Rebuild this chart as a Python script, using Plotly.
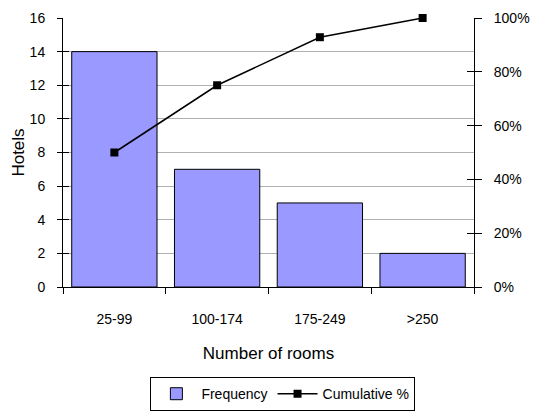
import plotly.graph_objects as go

categories = ["25-99", "100-174", "175-249", ">250"]
frequency = [14, 7, 5, 2]
cumulative_pct = [0.50, 0.75, 0.9286, 1.00]
left_ticks = [0, 2, 4, 6, 8, 10, 12, 14, 16]
right_ticks = [0, 0.2, 0.4, 0.6, 0.8, 1.0]
right_labels = ["0%", "20%", "40%", "60%", "80%", "100%"]

FONT = "Liberation Sans Narrow, Arial Narrow, Liberation Sans, Arial"

fig = go.Figure()
fig.add_trace(go.Bar(
    x=categories, y=frequency, name="Frequency",
    marker=dict(color="#9999FF", line=dict(color="black", width=1)),
    yaxis="y",
))
fig.add_trace(go.Scatter(
    x=categories, y=cumulative_pct, name="Cumulative %",
    mode="lines+markers",
    line=dict(color="black", width=1.5),
    marker=dict(symbol="square", size=8, color="black"),
    yaxis="y2", cliponaxis=False,
))
# invisible helper traces to activate inner tick axes
fig.add_trace(go.Scatter(x=categories, y=frequency, yaxis="y3", mode="none",
                         showlegend=False, hoverinfo="skip"))
fig.add_trace(go.Scatter(x=categories, y=cumulative_pct, yaxis="y4", mode="none",
                         showlegend=False, hoverinfo="skip"))

fig.update_layout(
    width=533, height=414,
    margin=dict(l=63, r=59, t=18, b=127, autoexpand=False),
    paper_bgcolor="white", plot_bgcolor="white",
    font=dict(family=FONT, size=14, color="black"),
    bargap=0.17,
    showlegend=True,
    legend=dict(
        orientation="h", x=0.535, y=-0.335, xanchor="center", yanchor="top",
        bordercolor="black", borderwidth=1, font=dict(size=14),
        traceorder="normal", itemwidth=40,
    ),
    xaxis=dict(
        title=dict(text="Number of rooms", standoff=21),
        showline=True, linecolor="black", linewidth=1,
        ticks="outside", ticklen=6, tickcolor="black", tickson="boundaries",
        ticklabelstandoff=19,
        showgrid=False, automargin=False,
    ),
    yaxis=dict(
        title=dict(text="Hotels", standoff=0),
        range=[0, 16], tickvals=left_ticks,
        showline=True, linecolor="black", linewidth=1,
        ticks="outside", ticklen=5, tickcolor="black",
        ticklabelstandoff=9,
        showgrid=True, gridcolor="#b0b0b0", gridwidth=1,
        zeroline=False, automargin=False,
    ),
    yaxis2=dict(
        overlaying="y", side="right",
        range=[0, 1.0], tickvals=right_ticks, ticktext=right_labels,
        showline=True, linecolor="black", linewidth=1,
        ticks="outside", ticklen=7, tickcolor="black",
        ticklabelstandoff=9,
        showgrid=False, zeroline=False, automargin=False,
    ),
    yaxis3=dict(
        overlaying="y", side="left", range=[0, 16], tickvals=left_ticks,
        ticks="inside", ticklen=6, tickcolor="black", showticklabels=False,
        showline=False, showgrid=False, zeroline=False, automargin=False,
    ),
    yaxis4=dict(
        overlaying="y", side="right", range=[0, 1.0], tickvals=right_ticks,
        ticks="inside", ticklen=7, tickcolor="black", showticklabels=False,
        showline=False, showgrid=False, zeroline=False, automargin=False,
    ),
)

fig.write_html("out.html")
